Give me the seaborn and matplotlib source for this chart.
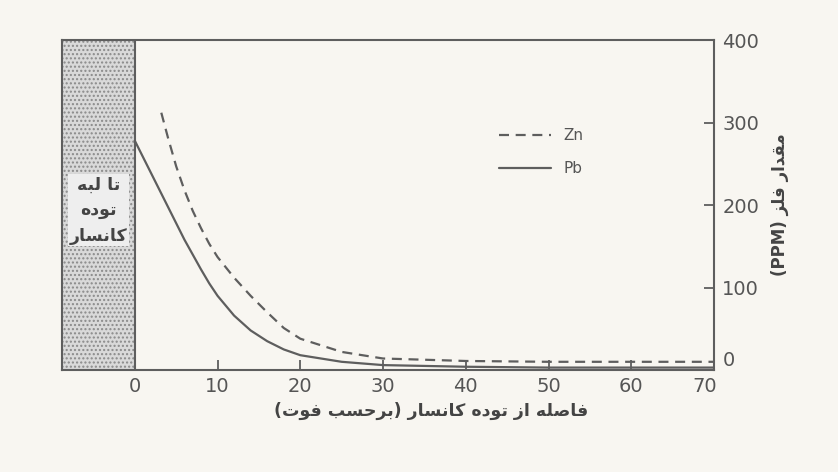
import matplotlib
matplotlib.use("Agg")
import matplotlib.pyplot as plt
import matplotlib.transforms as mtrans
import seaborn as sns

# distance from ore body (ft) and metal content (ppm)
pb_dist = [0, 1, 2, 3, 4, 5, 6, 7, 8, 9, 10, 12, 14, 16, 18, 20, 25, 30, 40, 50, 60, 70]
pb_ppm = [278, 258, 238, 218, 198, 178, 158, 140, 122, 105, 90, 66, 48, 35, 25, 18, 10, 6, 4, 3, 3, 3]

zn_dist = [3.2, 4, 5, 6, 7, 8, 9, 10, 12, 14, 16, 18, 20, 25, 30, 40, 50, 60, 70]
zn_ppm = [312, 282, 247, 218, 193, 172, 153, 137, 112, 90, 70, 51, 38, 22, 14, 11, 10, 10, 10]

x_ticks = [0, 10, 20, 30, 40, 50, 60, 70]
y_ticks = [0, 100, 200, 300, 400]

# minimal persian shaping (no bidi engine in matplotlib)
FORMS = {
    'ا': ('\uFE8D', '\uFE8E', None, None),
    'ب': ('\uFE8F', '\uFE90', '\uFE91', '\uFE92'),
    'ت': ('\uFE95', '\uFE96', '\uFE97', '\uFE98'),
    'ح': ('\uFEA1', '\uFEA2', '\uFEA3', '\uFEA4'),
    'د': ('\uFEA9', '\uFEAA', None, None),
    'ر': ('\uFEAD', '\uFEAE', None, None),
    'ز': ('\uFEAF', '\uFEB0', None, None),
    'س': ('\uFEB1', '\uFEB2', '\uFEB3', '\uFEB4'),
    'ص': ('\uFEB9', '\uFEBA', '\uFEBB', '\uFEBC'),
    'ف': ('\uFED1', '\uFED2', '\uFED3', '\uFED4'),
    'ق': ('\uFED5', '\uFED6', '\uFED7', '\uFED8'),
    'ل': ('\uFEDD', '\uFEDE', '\uFEDF', '\uFEE0'),
    'م': ('\uFEE1', '\uFEE2', '\uFEE3', '\uFEE4'),
    'ن': ('\uFEE5', '\uFEE6', '\uFEE7', '\uFEE8'),
    'ه': ('\uFEE9', '\uFEEA', '\uFEEB', '\uFEEC'),
    'و': ('\uFEED', '\uFEEE', None, None),
    'ک': ('\uFB8E', '\uFB8F', '\uFB90', '\uFB91'),
}
NON_LEFT = set('ادذرزژو')


def shape(word):
    out = []
    for i, ch in enumerate(word):
        if ch not in FORMS:
            out.append(ch)
            continue
        prev = word[i - 1] if i > 0 else None
        nxt = word[i + 1] if i + 1 < len(word) else None
        join_prev = prev in FORMS and prev not in NON_LEFT
        join_next = nxt in FORMS and ch not in NON_LEFT
        iso, fin, ini, med = FORMS[ch]
        if join_prev and join_next:
            out.append(med)
        elif join_prev:
            out.append(fin)
        elif join_next:
            out.append(ini)
        else:
            out.append(iso)
    return ''.join(out)[::-1]


def rtl(text):
    return ' '.join(shape(w) for w in text.split(' ')[::-1])


x_label = '(' + rtl('برحسب فوت') + ') ' + rtl('فاصله از توده کانسار')
y_label = '(PPM) ' + rtl('مقدار فلز')
box_label = rtl('تا لبه') + '\n' + rtl('توده') + '\n' + rtl('کانسار')

sns.set_style("ticks")
plt.rcParams['font.family'] = ['DejaVu Sans']

bg = '#f8f6f1'
ink = '#5e5e5e'

fig = plt.figure(figsize=(8.38, 4.72), dpi=100, facecolor=bg)
ax = fig.add_axes([0.074, 0.216, 0.778, 0.699], facecolor=bg)

sns.lineplot(x=zn_dist, y=zn_ppm, ax=ax, color=ink, lw=1.6,
             label='Zn').lines[-1].set_dashes((4.5, 3))
sns.lineplot(x=pb_dist, y=pb_ppm, ax=ax, color=ink, lw=1.6, label='Pb')

# ore body strip
ax.axvspan(-8.8, 0, facecolor='#d9d9d9', edgecolor='#8a8a8a', hatch='....', lw=0)
ax.axvline(0, color=ink, lw=1.5)
ax.text(-4.4, 194, box_label, ha='center', va='center', fontsize=12.5,
        fontweight='bold', color='#444', linespacing=1.55,
        bbox=dict(facecolor='#eeeeee', edgecolor='none', pad=1.0))

ax.set_xlim(-8.8, 70)
ax.set_ylim(0, 400)
ax.set_xticks(x_ticks)
ax.set_yticks(y_ticks)
ax.yaxis.tick_right()
ax.tick_params(direction='in', length=7, width=1.3, colors=ink,
               labelcolor='#555', labelsize=14, pad=5)
ax.tick_params(axis='y', pad=6)
for s in ax.spines.values():
    s.set_color(ink)
    s.set_linewidth(1.5)
ax.set_xlabel('')
ax.set_ylabel('')

# raise the "0" on the right axis, nudge "70" left, as in the print
lab0 = ax.yaxis.get_major_ticks()[0].label2
lab0.set_transform(lab0.get_transform() + mtrans.ScaledTranslation(0, 8 / 72, fig.dpi_scale_trans))
lab70 = ax.xaxis.get_major_ticks()[-1].label1
lab70.set_transform(lab70.get_transform() + mtrans.ScaledTranslation(-7 / 72, 0, fig.dpi_scale_trans))

ax.text(0.566, -0.125, x_label, transform=ax.transAxes, ha='center', va='center',
        fontsize=12.5, fontweight='bold', color='#444')
ax.text(1.101, 0.5, y_label, transform=ax.transAxes, ha='center', va='center',
        rotation=90, fontsize=12, fontweight='bold', color='#444')

ax.legend(loc='center', bbox_to_anchor=(0.735, 0.66), frameon=False,
          fontsize=11, handlelength=3.4, labelspacing=1.2, handletextpad=0.8,
          labelcolor='#555')

fig.savefig('out.png', dpi=100, facecolor=bg)
